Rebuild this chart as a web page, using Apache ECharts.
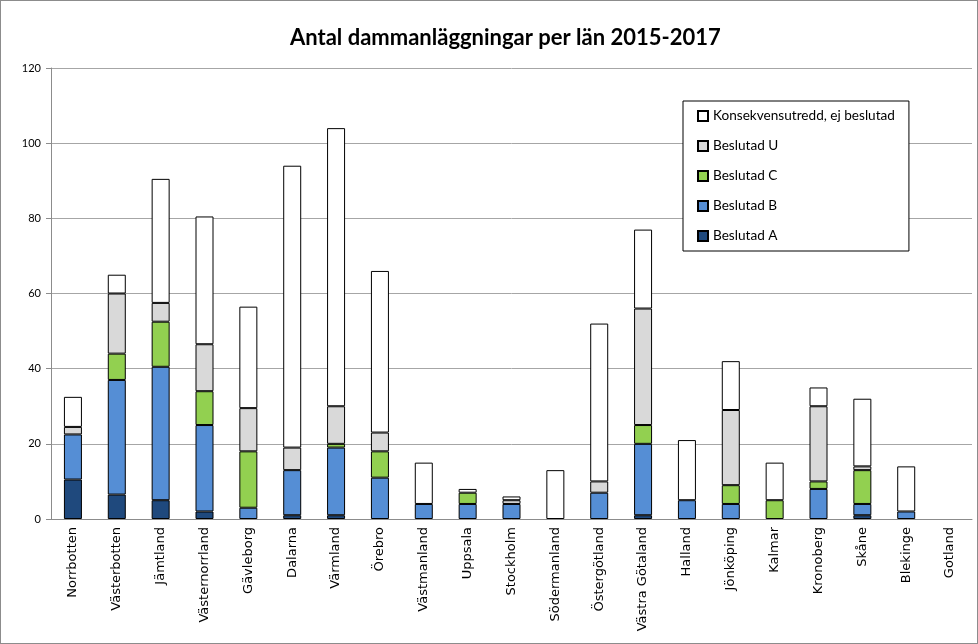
<!DOCTYPE html>
<html>
<head>
<meta charset="utf-8">
<script src="https://cdn.jsdelivr.net/npm/echarts@6/dist/echarts.min.js"></script>
<style>
  html, body { margin: 0; padding: 0; background: #fff; }
  #main { width: 976px; height: 642px; border: 1px solid #8c8c8c; }
</style>
</head>
<body>
<div id="main"></div>
<script>
const lan = ['Norrbotten', 'Västerbotten', 'Jämtland', 'Västernorrland', 'Gävleborg', 'Dalarna', 'Värmland',
  'Örebro', 'Västmanland', 'Uppsala', 'Stockholm', 'Södermanland', 'Östergötland', 'Västra Götaland',
  'Halland', 'Jönköping', 'Kalmar', 'Kronoberg', 'Skåne', 'Blekinge', 'Gotland']

const beslutadA = [10.5, 6.5, 5, 2, 0, 1, 1, 0, 0, 0, 0, 0, 0, 1, 0, 0, 0, 0, 1, 0, 0]
const beslutadB = [12, 30.5, 35.5, 23, 3, 12, 18, 11, 4, 4, 4, 0, 7, 19, 5, 4, 0, 8, 3, 2, 0]
const beslutadC = [0, 7, 12, 9, 15, 0, 1, 7, 0, 3, 0, 0, 0, 5, 0, 5, 5, 2, 9, 0, 0]
const beslutadU = [2, 16, 5, 12.5, 11.5, 6, 10, 5, 0, 0, 1, 0, 3, 31, 0, 20, 0, 20, 1, 0, 0]
const konsekvens = [8, 5, 33, 34, 27, 75, 74, 43, 11, 1, 1, 13, 42, 21, 16, 13, 10, 5, 18, 12, 0]

const yTicks = [0, 20, 40, 60, 80, 100, 120]

const myChart = echarts.init(document.getElementById('main'))

// nollor ritas inte (annars blir det en tunn kantlinje)
const serie = (name, data, color) => ({
  name: name,
  type: 'bar',
  stack: 'total',
  barWidth: 18,
  data: data.map(v => v === 0 ? '-' : v),
  itemStyle: { color: color, borderColor: '#000', borderWidth: 1 },
  emphasis: { disabled: true }
})

myChart.setOption({
  animation: false,
  title: {
    text: 'Antal dammanläggningar per län 2015-2017',
    left: 284,
    top: 21,
    textStyle: { fontFamily: 'Lato', fontWeight: 'bold', fontSize: 22, color: '#000' }
  },
  legend: {
    orient: 'vertical',
    left: 682,
    top: 100,
    width: 226,
    padding: [8, 14, 8, 14],
    itemGap: 16,
    itemWidth: 10,
    itemHeight: 10,
    icon: 'rect',
    borderColor: '#000',
    borderWidth: 1,
    backgroundColor: '#fff',
    data: ['Konsekvensutredd, ej beslutad', 'Beslutad U', 'Beslutad C', 'Beslutad B', 'Beslutad A'],
    textStyle: { fontFamily: 'Lato', fontSize: 13.6, color: '#000', padding: [0, 80, 0, 0] }
  },
  grid: { left: 50, right: 5, top: 67, bottom: 124 },
  xAxis: {
    type: 'category',
    data: lan,
    axisLine: { lineStyle: { color: '#8c8c8c' } },
    axisTick: { length: 5, lineStyle: { color: '#8c8c8c' } },
    axisLabel: {
      rotate: 90,
      interval: 0,
      margin: 8,
      color: '#000',
      fontFamily: 'DejaVu Sans',
      fontSize: 13
    }
  },
  yAxis: {
    type: 'value',
    min: yTicks[0],
    max: yTicks[yTicks.length - 1],
    interval: 20,
    axisLine: { show: true, lineStyle: { color: '#8c8c8c' } },
    axisTick: { show: true, length: 5, lineStyle: { color: '#8c8c8c' } },
    axisLabel: { color: '#000', fontFamily: 'Lato', fontSize: 11, margin: 10 },
    splitLine: { lineStyle: { color: '#a6a6a6' } }
  },
  series: [
    serie('Beslutad A', beslutadA, '#1f497d'),
    serie('Beslutad B', beslutadB, '#558ed5'),
    serie('Beslutad C', beslutadC, '#92d050'),
    serie('Beslutad U', beslutadU, '#d9d9d9'),
    serie('Konsekvensutredd, ej beslutad', konsekvens, '#ffffff')
  ]
})
</script>
</body>
</html>
